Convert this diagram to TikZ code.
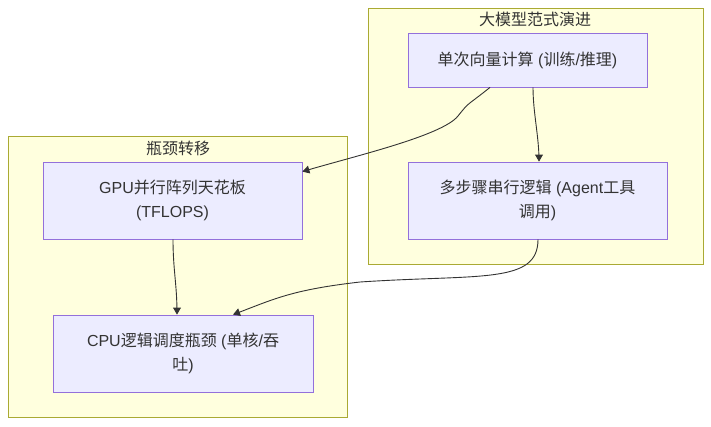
\documentclass[tikz,border=0pt]{standalone}
\usepackage{fontspec}
\setmainfont{Liberation Sans}
\newfontfamily\cjkfont{Noto Sans CJK SC}
\newcommand{\zh}[1]{{\cjkfont #1}}
\usepackage{tikz}
\usetikzlibrary{arrows}

\definecolor{boxfill}{HTML}{ECECFF}
\definecolor{boxline}{HTML}{9370DB}
\definecolor{grpfill}{HTML}{FFFFDE}
\definecolor{grpline}{HTML}{AAAA33}
\definecolor{txt}{HTML}{333333}

\begin{document}
\begin{tikzpicture}[x=1pt,y=-1pt,
  step box/.style={draw=boxline,fill=boxfill,line width=0.8pt,text=txt,align=center,
    font=\fontsize{16}{24.5}\selectfont,inner sep=0pt},
  group/.style={draw=grpline,fill=grpfill,line width=0.8pt},
  title/.style={text=txt,font=\fontsize{16}{18}\selectfont},
  flow/.style={draw=txt,line width=0.9pt,->,>=triangle 60}]
\useasboundingbox (0,0) rectangle (711,426);

\draw[group] (368,8) rectangle (703,264);
\draw[group] (8,136) rectangle (347,417);
\node[title] (gmodel) at (535,19) {\zh{大模型范式演进}};
\node[title] (gneck) at (178,148) {\zh{瓶颈转移}};

\node[step box,minimum width=239pt,minimum height=54pt] (vec) at (527.5,60)
  {\zh{单次向量计算} (\zh{训练}/\zh{推理})};
\node[step box,minimum width=259pt,minimum height=77pt] (agent) at (537.5,200.5)
  {\zh{多步骤串行逻辑} (Agent\zh{工具}\\\zh{调用})};
\node[step box,minimum width=259pt,minimum height=77pt] (gpu) at (172.5,200.5)
  {GPU\zh{并行阵列天花板}\\(TFLOPS)};
\node[step box,minimum width=260pt,minimum height=77pt] (cpu) at (183,353.5)
  {CPU\zh{逻辑调度瓶颈} (\zh{单核}/\zh{吞}\\\zh{吐})};

\draw[flow] ([xshift=5.5pt]vec.south) .. controls +(0,25) and +(0,-25) .. ([xshift=1.5pt]agent.north);
\draw[flow] ([xshift=-37.5pt]vec.south) .. controls +(-25,20) and +(12,-15) .. (458,116)
  .. controls +(-16,20) and +(50,-15) .. ([yshift=-10pt]gpu.north east);
\draw[flow] ([xshift=0.5pt]gpu.south) .. controls +(0,30) and +(0,-30) .. ([xshift=-6pt]cpu.north);
\draw[flow] ([xshift=0.5pt]agent.south) .. controls +(0,45) and +(120,-8) .. (360,282)
  .. controls +(-70,8) and +(40,-15) .. ([xshift=50pt]cpu.north);
\end{tikzpicture}
\end{document}
